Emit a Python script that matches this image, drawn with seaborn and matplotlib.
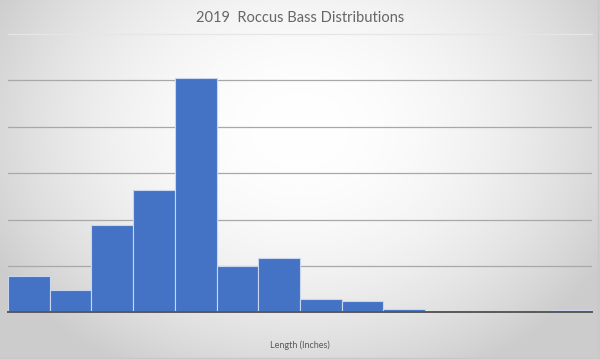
import numpy as np
import pandas as pd
import matplotlib
matplotlib.use("Agg")
import matplotlib.pyplot as plt
import seaborn as sns

bins = [f"b{i}" for i in range(1, 15)]
counts = [7.9, 4.8, 18.8, 26.4, 50.5, 10.0, 11.8, 2.8, 2.4, 0.8, 0.0, 0.0, 0.0, 0.6]
title = "2019  Roccus Bass Distributions"
xlabel = "Length (Inches)"

sns.set_theme(style="white")
plt.rcParams["font.family"] = ["Lato", "DejaVu Sans"]

W, H = 600, 359
fig = plt.figure(figsize=(W / 100, H / 100), dpi=100)

# radial gradient background
bg = fig.add_axes([0, 0, 1, 1], zorder=-10)
yy, xx = np.mgrid[0:H, 0:W]
r2 = ((xx - 300) / 330.0) ** 2 + ((yy - 130) / 260.0) ** 2
val = np.clip(1.0 - 0.18 * r2, 0.8, 1.0)
bg.imshow(np.dstack([val, val, val]), aspect="auto", extent=[0, 1, 0, 1], origin="upper")
bg.set_axis_off()
for (x0, y0, x1, y1) in [(0, 0.004, 1, 0.004), (0.997, 0, 0.997, 1)]:
    bg.plot([x0, x1], [y0, y1], color="#c8c8c8", lw=1, transform=bg.transAxes)
bg.set_xlim(0, 1); bg.set_ylim(0, 1)

ax = fig.add_axes([8 / W, 1 - 312.3 / H, 584 / W, (312.3 - 34) / H])
ax.set_facecolor("none")
df = pd.DataFrame({"bin": bins, "count": counts})
sns.barplot(data=df, x="bin", y="count", ax=ax, color="#4472C4", saturation=1,
            width=1.0, edgecolor="#c9d6ee", linewidth=0.8, zorder=3)
ax.set_xlim(-0.5, len(bins) - 0.5)
ax.set_ylim(0, 60)
ax.set_yticks(np.arange(0, 51, 10))
ax.yaxis.grid(True, color="#a8a8a8", lw=0.9, zorder=0)
ax.axhline(60, color="#e6e6e6", lw=0.9, zorder=0, clip_on=False)
ax.set_axisbelow(True)
ax.tick_params(left=False, bottom=False, labelleft=False, labelbottom=False)
for s in ["top", "right", "left"]:
    ax.spines[s].set_visible(False)
ax.spines["bottom"].set_color("#595959")
ax.spines["bottom"].set_linewidth(1.4)
ax.spines["bottom"].set_zorder(5)
ax.set_xlabel("")
ax.set_ylabel("")

fig.text(0.5, 1 - 18 / H, title, ha="center", va="center", fontsize=10.5,
         color="#666666")
fig.text(0.5, 1 - 345 / H, xlabel, ha="center", va="center", fontsize=6.5, color="#595959")

fig.savefig("out.png", dpi=100)
